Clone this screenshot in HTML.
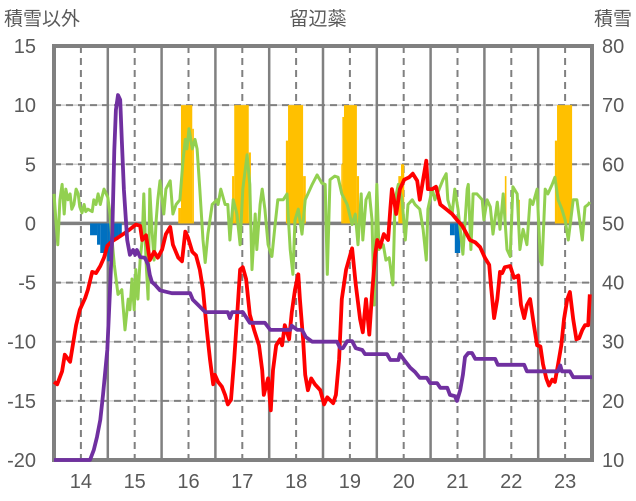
<!DOCTYPE html>
<html><head><meta charset="utf-8">
<style>
html,body{margin:0;padding:0;background:#fff;}
svg{display:block;font-family:"Liberation Sans","Noto Sans CJK JP",sans-serif;}
</style></head>
<body>
<svg id="chart" width="636" height="501" viewBox="0 0 636 501">
<g id="grid"></g>
<g id="bars"></g>
<g id="frame"></g>
<g id="lines"></g>
<g id="labels"></g>
</svg>
<script>
const xTicks=[14,15,16,17,18,19,20,21,22,23];
const yLeftTicks=[15,10,5,0,-5,-10,-15,-20];
const yRightTicks=[80,70,60,50,40,30,20,10];
const redX=[13.50,13.56,13.65,13.70,13.80,13.85,13.91,13.98,14.08,14.13,14.21,14.28,14.36,14.43,14.49,14.58,14.69,14.82,14.91,15.02,15.10,15.14,15.21,15.28,15.36,15.43,15.51,15.58,15.66,15.71,15.81,15.88,15.94,15.99,16.07,16.14,16.21,16.27,16.34,16.40,16.46,16.49,16.55,16.62,16.68,16.73,16.79,16.85,16.90,16.96,17.01,17.07,17.14,17.22,17.31,17.37,17.40,17.48,17.53,17.57,17.63,17.70,17.74,17.79,17.87,17.92,17.98,18.04,18.07,18.13,18.17,18.22,18.28,18.35,18.45,18.52,18.58,18.69,18.74,18.80,18.85,18.93,19.04,19.11,19.19,19.24,19.30,19.36,19.41,19.47,19.51,19.56,19.63,19.71,19.75,19.78,19.82,19.86,19.93,20.01,20.10,20.17,20.25,20.30,20.36,20.42,20.45,20.53,20.60,20.68,20.79,20.90,21.01,21.09,21.16,21.23,21.33,21.42,21.51,21.59,21.62,21.68,21.74,21.79,21.83,21.88,21.98,22.05,22.13,22.18,22.24,22.29,22.35,22.42,22.48,22.54,22.59,22.65,22.70,22.76,22.81,22.87,22.93,22.98,23.04,23.09,23.15,23.21,23.26,23.32,23.37,23.43,23.46];
const redV=[-13.4,-13.6,-12.5,-11.1,-11.7,-10.3,-8.6,-7.3,-6.3,-5.6,-4.1,-4.2,-3.6,-2.9,-1.9,-1.5,-1.2,-0.8,-0.5,-0.1,-0.2,-1.4,-1.0,-3.1,-2.4,-2.9,-2.2,-0.9,-0.3,-1.8,-2.9,-3.2,-0.7,-1.2,-2.4,-2.7,-3.9,-5.6,-9.0,-11.5,-13.6,-12.8,-13.4,-13.8,-14.5,-15.3,-14.9,-11.5,-8.1,-3.9,-3.7,-4.7,-7.7,-9.0,-10.3,-12.4,-14.5,-13.1,-15.8,-12.4,-10.3,-9.8,-10.3,-8.6,-9.8,-7.5,-5.6,-4.3,-6.4,-9.8,-12.8,-14.1,-13.1,-13.6,-14.1,-15.3,-14.7,-15.2,-14.5,-11.5,-6.4,-3.9,-2.1,-5.2,-8.1,-9.2,-6.4,-9.4,-6.0,-2.6,-1.4,-2.0,-0.9,-1.4,1.2,2.9,2.0,0.8,2.9,3.7,3.9,4.2,3.6,2.0,3.7,5.3,2.9,2.9,3.1,1.6,1.2,0.8,0.2,-0.2,-0.8,-1.4,-1.6,-2.0,-2.9,-3.5,-5.2,-8.0,-6.4,-4.1,-4.2,-3.7,-3.6,-4.6,-4.4,-6.9,-8.0,-6.9,-6.4,-8.6,-10.3,-10.4,-11.9,-13.1,-13.7,-13.2,-13.4,-11.9,-10.3,-8.1,-6.4,-5.8,-8.1,-9.8,-9.7,-9.0,-8.6,-8.6,-6.0];
const greenX=[13.50,13.54,13.57,13.61,13.65,13.69,13.72,13.76,13.80,13.83,13.87,13.91,13.95,13.98,14.02,14.06,14.09,14.13,14.21,14.24,14.28,14.32,14.36,14.39,14.43,14.47,14.50,14.54,14.58,14.62,14.69,14.76,14.82,14.88,14.91,14.95,14.99,15.02,15.06,15.10,15.14,15.17,15.21,15.25,15.28,15.32,15.36,15.40,15.43,15.47,15.54,15.58,15.66,15.71,15.77,15.84,15.90,15.94,15.97,16.01,16.07,16.12,16.16,16.21,16.27,16.31,16.36,16.44,16.53,16.55,16.60,16.68,16.73,16.77,16.83,16.90,16.96,17.01,17.09,17.14,17.18,17.24,17.27,17.33,17.37,17.42,17.48,17.55,17.61,17.66,17.76,17.83,17.89,17.94,17.98,18.04,18.11,18.17,18.22,18.30,18.39,18.48,18.54,18.58,18.63,18.72,18.78,18.85,18.95,19.04,19.10,19.15,19.21,19.24,19.30,19.36,19.41,19.45,19.50,19.54,19.62,19.67,19.73,19.80,19.84,19.90,19.97,20.03,20.08,20.16,20.21,20.30,20.36,20.42,20.45,20.53,20.58,20.66,20.73,20.79,20.82,20.90,20.95,21.01,21.10,21.18,21.20,21.25,21.29,21.36,21.46,21.49,21.55,21.61,21.66,21.74,21.79,21.85,21.92,21.98,22.03,22.11,22.16,22.22,22.29,22.35,22.40,22.48,22.54,22.57,22.63,22.68,22.76,22.81,22.87,22.94,23.00,23.06,23.15,23.22,23.32,23.37,23.43,23.46];
const greenV=[2.5,-0.1,-1.8,2.0,3.3,0.8,2.9,2.0,2.5,1.2,1.6,2.9,2.5,1.4,0.9,1.6,1.0,1.2,1.0,2.0,1.6,2.5,1.6,2.2,2.9,2.5,2.2,0.8,-1.4,-3.5,-6.0,-5.6,-9.0,-6.4,-7.3,-4.7,-7.3,-3.9,-6.4,-3.1,-1.4,2.5,-3.1,-6.4,2.9,-0.5,-3.1,0.3,2.0,3.6,0.8,2.9,3.6,0.8,1.6,2.0,5.4,7.1,6.3,8.0,6.3,7.1,6.3,2.9,-1.4,-3.3,-0.9,1.6,2.0,1.6,2.9,1.6,1.6,-1.4,2.0,0.8,-1.8,2.9,5.8,3.3,-3.9,0.8,-2.2,1.6,2.9,1.2,-1.8,-2.8,-0.1,2.0,2.0,2.5,-2.2,-4.3,0.3,1.2,-0.9,2.0,2.5,3.3,4.1,3.4,3.3,-4.3,3.7,4.0,3.9,2.5,1.6,-0.1,0.8,-1.8,2.5,-1.4,2.0,2.6,0.3,-6.9,3.3,-2.2,-1.8,-3.1,-2.9,-5.2,2.0,3.3,2.0,-1.4,1.6,2.0,1.6,1.2,-0.5,-3.1,1.2,2.9,2.0,2.9,3.7,4.2,2.0,0.8,2.9,1.2,-2.6,2.9,3.3,-2.2,2.5,2.5,2.0,0.3,2.0,1.4,-0.9,1.8,-0.5,2.5,-2.2,-2.8,3.1,2.5,-2.2,-0.5,-1.8,2.0,1.6,2.9,-3.1,-3.5,2.9,2.5,3.3,3.9,2.0,1.2,0.3,-1.4,2.0,2.0,-1.4,1.4,1.6,1.8];
const snowX=[13.50,14.17,14.24,14.30,14.36,14.41,14.49,14.54,14.58,14.62,14.65,14.69,14.73,14.76,14.80,14.86,14.91,14.97,15.01,15.04,15.10,15.19,15.25,15.28,15.32,15.38,15.47,15.69,16.03,16.08,16.18,16.31,16.73,16.77,16.81,17.01,17.14,17.42,17.52,17.89,17.92,18.02,18.11,18.18,18.30,18.76,18.82,18.87,18.95,19.04,19.11,19.23,19.28,19.69,19.75,19.90,19.93,20.01,20.12,20.21,20.30,20.43,20.49,20.62,20.68,20.81,20.86,20.95,20.99,21.05,21.10,21.14,21.20,21.27,21.33,21.70,21.75,22.24,22.29,22.87,22.91,22.94,23.09,23.15,23.50];
const snowV=[10,10,11.7,13.9,16.8,21,28.6,38.7,47.2,62.4,69.2,71.7,70.9,64.1,55.7,47.2,44.7,45.5,44.7,45.5,44.3,44.2,43.0,41.3,40.1,39.6,38.7,38.2,38.2,37.1,36.2,35.0,35.0,34.0,35.0,35.0,33.2,33.2,32.0,32.0,32.7,32.0,32.0,30.8,30.0,30.0,28.9,28.9,30.1,30.1,28.9,28.6,27.9,27.9,26.9,26.9,27.9,26.9,25.6,24.9,23.9,23.9,23.0,23.0,22.2,22.2,21.0,20.8,20.0,21.8,24.4,27.4,28.1,28.1,27.1,27.1,26.1,26.1,25.0,25.0,26.0,25.0,25.0,24.0,24.0];
const orangeStart=[15.81,15.86,16.07,16.81,16.85,17.12,17.81,17.85,18.13,18.84,18.86,18.89,19.13,19.90,19.95,21.88,22.13,22.81,22.85];
const orangeEnd=[15.86,16.07,16.10,16.85,17.12,17.16,17.85,18.13,18.18,18.86,18.89,19.13,19.17,19.95,20.01,21.91,22.16,22.85,23.13];
const orangeV=[1.3,10,8,4,10,6,7,10,4,5,9,10,4,4,5,4,2,7,10];
const blueStart=[14.17,14.30,14.36,14.49,14.54,14.60,14.69,20.86,20.95];
const blueEnd=[14.30,14.36,14.49,14.54,14.60,14.69,14.76,20.95,21.05];
const blueV=[-1.0,-1.8,-2.5,-3.2,-1.8,-1.4,-1.0,-1.0,-2.5];

const L=54,R=592,T=46,B=460;
const xs=v=>L+(v-13.5)/10*(R-L);
const yl=v=>T+(15-v)/35*(B-T);
const yr=v=>T+(80-v)/70*(B-T);
const NS='http://www.w3.org/2000/svg';
function mk(tag,parent){const e=document.createElementNS(NS,tag);document.getElementById(parent).appendChild(e);return e;}

yLeftTicks.forEach(t=>{
  if(t===15||t===-20) return;
  const y=yl(t);
  if(t===0){
    const z=mk('line','grid');
    
    
    z.setAttribute('x1',L);z.setAttribute('x2',R);z.setAttribute('y1',y);z.setAttribute('y2',y);
    z.setAttribute('stroke','#808080');z.setAttribute('stroke-width','3.5');
    return;
  }
  const a=mk('line','grid');
  
  
  a.setAttribute('x1',L);a.setAttribute('x2',R);a.setAttribute('y1',y);a.setAttribute('y2',y);
  a.setAttribute('stroke','#d0d0d0');a.setAttribute('stroke-width','1.5');
  const g=mk('line','grid');
  
  
  g.setAttribute('x1',L);g.setAttribute('x2',R);g.setAttribute('y1',y);g.setAttribute('y2',y);
  g.setAttribute('stroke','#808080');g.setAttribute('stroke-width','2');g.setAttribute('stroke-dasharray','7,5');
});
xTicks.forEach(t=>{
  const d=mk('line','grid');
  
  
  d.setAttribute('x1',xs(t));d.setAttribute('x2',xs(t));d.setAttribute('y1',T);d.setAttribute('y2',B);
  d.setAttribute('stroke','#808080');d.setAttribute('stroke-width','2');d.setAttribute('stroke-dasharray','7,5');
  const s=mk('line','grid');
  
  
  s.setAttribute('x1',xs(t+0.5));s.setAttribute('x2',xs(t+0.5));s.setAttribute('y1',T);s.setAttribute('y2',B);
  s.setAttribute('stroke','#808080');s.setAttribute('stroke-width','2.5');
});

orangeV.forEach((v,i)=>{
  const r=mk('rect','bars');
  
  
  const x0=xs(orangeStart[i]),x1=xs(orangeEnd[i]);
  r.setAttribute('x',x0);r.setAttribute('width',Math.max(1,x1-x0));
  r.setAttribute('y',yl(v));r.setAttribute('height',yl(0)-yl(v));
  r.setAttribute('fill','#ffc000');
});
blueV.forEach((v,i)=>{
  const r=mk('rect','bars');
  
  
  const x0=xs(blueStart[i]),x1=xs(blueEnd[i]);
  r.setAttribute('x',x0);r.setAttribute('width',Math.max(1,x1-x0));
  r.setAttribute('y',yl(0));r.setAttribute('height',yl(v)-yl(0));
  r.setAttribute('fill','#0070c0');
});

const f=mk('rect','frame');


f.setAttribute('x',L);f.setAttribute('y',T);f.setAttribute('width',R-L);f.setAttribute('height',B-T);
f.setAttribute('fill','none');f.setAttribute('stroke','#808080');f.setAttribute('stroke-width','4');

function line(X,V,sc,color,w,name){
  const p=mk('polyline','lines');
  
  
  p.setAttribute('points',X.map((x,i)=>xs(x).toFixed(1)+','+sc(V[i]).toFixed(1)).join(' '));
  p.setAttribute('fill','none');p.setAttribute('stroke',color);p.setAttribute('stroke-width',w);
  p.setAttribute('stroke-linejoin','round');
}
line(greenX,greenV,yl,'#92d050',3,'green-series-line');
line(redX,redV,yl,'#ff0000',3.8,'red-series-line');
line(snowX,snowV,yr,'#7030a0',3.8,'snow-depth-line');

function txt(s,x,y,anchor,name,size){
  const t=mk('text','labels');
  
  
  t.setAttribute('x',x);t.setAttribute('y',y);t.setAttribute('text-anchor',anchor);
  t.setAttribute('font-size',size||20);t.setAttribute('fill','#595959');
  t.textContent=s;
}
yLeftTicks.forEach(t=>txt(String(t),36,yl(t)+7,'end','left-tick-label'));
yRightTicks.forEach(t=>txt(String(t),602,yr(t)+7,'start','right-tick-label'));
xTicks.forEach(t=>txt(String(t),xs(t),488,'middle','x-tick-label'));
txt('積雪以外',4,25,'start','left-axis-title',19);
txt('留辺蘂',318,25,'middle','chart-title',19);
txt('積雪',632,25,'end','right-axis-title',19);
</script>
</body></html>
